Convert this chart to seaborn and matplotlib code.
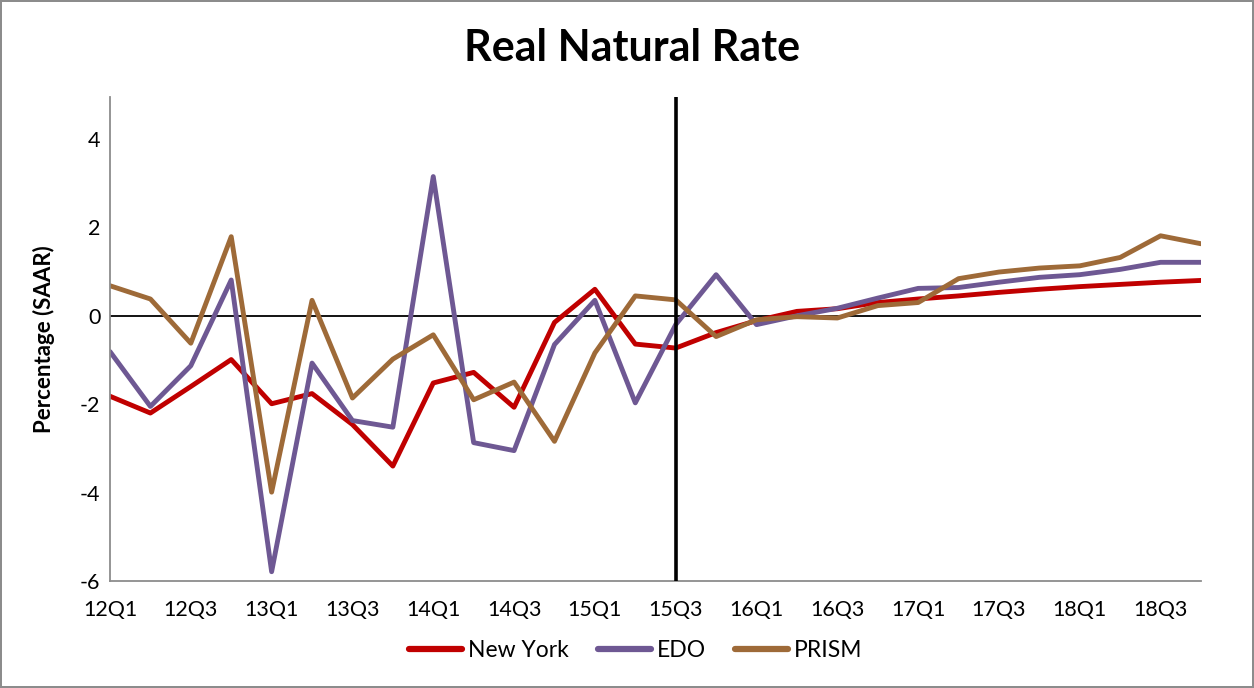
import matplotlib
matplotlib.use("Agg")
import matplotlib.pyplot as plt
import seaborn as sns
import pandas as pd
from matplotlib.lines import Line2D

quarters = [f"{y}Q{q}" for y in range(12, 19) for q in range(1, 5)]
new_york = [-1.82, -2.20, -1.60, -0.99, -1.99, -1.76, -2.46, -3.40, -1.52, -1.28,
            -2.07, -0.15, 0.60, -0.64, -0.73, -0.38, -0.11, 0.10, 0.16, 0.30,
            0.38, 0.45, 0.53, 0.60, 0.66, 0.71, 0.76, 0.80]
edo = [-0.81, -2.05, -1.13, 0.81, -5.79, -1.07, -2.37, -2.52, 3.15, -2.87,
       -3.05, -0.65, 0.35, -1.97, -0.20, 0.93, -0.20, 0.00, 0.17, 0.40,
       0.62, 0.64, 0.76, 0.87, 0.93, 1.05, 1.21, 1.21]
prism = [0.68, 0.38, -0.62, 1.79, -3.99, 0.35, -1.86, -0.98, -0.43, -1.90,
         -1.50, -2.84, -0.84, 0.45, 0.36, -0.47, -0.09, -0.02, -0.05, 0.23,
         0.30, 0.84, 0.99, 1.08, 1.13, 1.32, 1.81, 1.63]
series_names = ["New York", "EDO", "PRISM"]
colors = ["#C00000", "#6E5893", "#9E6A38"]
divider_quarter = "15Q3"

rows = []
for name, vals in zip(series_names, [new_york, edo, prism]):
    for i, (q, v) in enumerate(zip(quarters, vals)):
        rows.append({"idx": i, "quarter": q, "value": v, "series": name})
df = pd.DataFrame(rows)

sns.set_style("white")
plt.rcParams["font.family"] = ["Lato", "DejaVu Sans"]
plt.rcParams["text.color"] = "black"
plt.rcParams["axes.labelcolor"] = "black"

fig = plt.figure(figsize=(12.54, 6.88), dpi=100)
fig.patch.set_edgecolor("#8c8c8c")
fig.patch.set_linewidth(1.5)
ax = fig.add_axes([110 / 1254, 1 - 581 / 688, (1201 - 110) / 1254, (581 - 97) / 688])

sns.lineplot(data=df, x="idx", y="value", hue="series", hue_order=series_names,
             palette=colors, linewidth=3.5, ax=ax, legend=False, sort=False)

ax.axhline(0, color="black", linewidth=1.3, zorder=1)
ax.axvline(quarters.index(divider_quarter), color="black", linewidth=2.6, zorder=5)

ax.set_xlim(0, len(quarters) - 1)
ax.set_ylim(-6, 4.95)
ax.set_yticks([-6, -4, -2, 0, 2, 4])
ax.set_yticklabels(["-6", "-4", "-2", "0", "2", "4"], fontsize=15.5)
ax.set_xticks(range(len(quarters)))
ax.set_xticklabels([q if i % 2 == 0 else "" for i, q in enumerate(quarters)], fontsize=15.5)
ax.tick_params(axis="both", direction="in", length=7, width=1.2, color="#8c8c8c",
               labelcolor="black")
ax.tick_params(axis="x", pad=14)
ax.tick_params(axis="y", pad=7)

for s in ["top", "right"]:
    ax.spines[s].set_visible(False)
for s in ["left", "bottom"]:
    ax.spines[s].set_color("#8c8c8c")
    ax.spines[s].set_linewidth(1.3)

ax.set_xlabel("")
ax.set_ylabel("Percentage (SAAR)", fontsize=16, fontweight="bold", labelpad=18)
fig.suptitle("Real Natural Rate", fontsize=31, fontweight="bold", x=0.504, y=0.96)

handles = [Line2D([0], [0], color=c, linewidth=4.5, solid_capstyle="round") for c in colors]
fig.legend(handles, series_names, loc="center", bbox_to_anchor=(0.507, 0.055), ncol=3,
           frameon=False, fontsize=16.5, handlelength=2.3, handletextpad=0.25, columnspacing=1.3)

fig.savefig("out.png", dpi=100, edgecolor=fig.get_edgecolor())
